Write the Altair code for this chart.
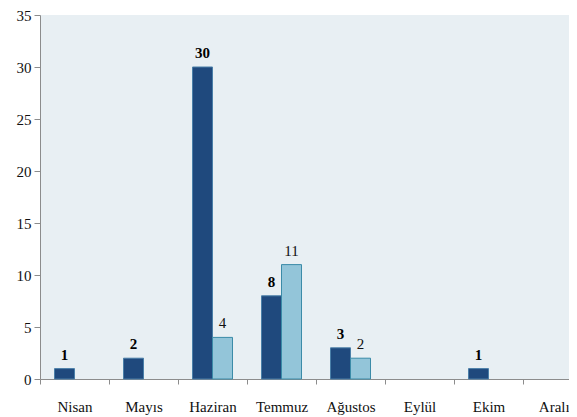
import altair as alt
import pandas as pd

months = ["Nisan", "Mayıs", "Haziran", "Temmuz", "Ağustos", "Eylül", "Ekim", "Aralık"]
series_a = [1, 2, 30, 8, 3, None, 1, None]
series_b = [None, None, 4, 11, 2, None, None, None]
series_names = ["A", "B"]

rows = []
for m, a, b in zip(months, series_a, series_b):
    if a is not None:
        rows.append({"ay": m, "seri": "A", "deger": a})
    if b is not None:
        rows.append({"ay": m, "seri": "B", "deger": b})
df = pd.DataFrame(rows)

FONT = "Liberation Serif"

x = alt.X("ay:N", sort=months,
          scale=alt.Scale(domain=months, paddingInner=0, paddingOuter=0, range=[0, 552]),
          axis=alt.Axis(title=None, labelAngle=0, tickBand="extent", labelPadding=15,
                        labelFont=FONT, labelFontSize=15, labelColor="#111",
                        domainColor="#8c8c8c", tickColor="#8c8c8c", tickSize=5,
                        grid=False))
xo = alt.XOffset("seri:N", scale=alt.Scale(domain=series_names, paddingInner=0, paddingOuter=0.725))
y = alt.Y("deger:Q", scale=alt.Scale(domain=[0, 35]),
          axis=alt.Axis(title=None, values=list(range(0, 36, 5)), labelFont=FONT, labelFontSize=15,
                        labelColor="#111", domainColor="#8c8c8c", tickColor="#8c8c8c",
                        tickSize=6, labelPadding=3, grid=False))

base = alt.Chart(df).encode(x=x, xOffset=xo, y=y)

bars = base.mark_bar(strokeWidth=1).encode(
    color=alt.Color("seri:N", scale=alt.Scale(domain=series_names, range=["#1F497D", "#93C5D9"]), legend=None),
    stroke=alt.Stroke("seri:N", scale=alt.Scale(domain=series_names, range=["#4A7FA8", "#3B8BA8"]), legend=None),
)

labels_a = base.transform_filter(alt.datum.seri == "A").mark_text(
    font=FONT, fontSize=15, fontWeight="bold", baseline="bottom", dy=-6, color="#000"
).encode(text="deger:Q")
labels_b = base.transform_filter(alt.datum.seri == "B").mark_text(
    font=FONT, fontSize=15, baseline="bottom", dy=-6, color="#111"
).encode(text="deger:Q")

chart = (bars + labels_a + labels_b).properties(
    width=529, height=364,
    background="white",
    autosize=alt.AutoSizeParams(type="none"),
    padding={"left": 32, "top": 7, "right": 0, "bottom": 38},
).configure_view(fill="#E8EFF3", stroke=None)

chart.save("out.html", embed_options={"renderer": "svg", "actions": False})
